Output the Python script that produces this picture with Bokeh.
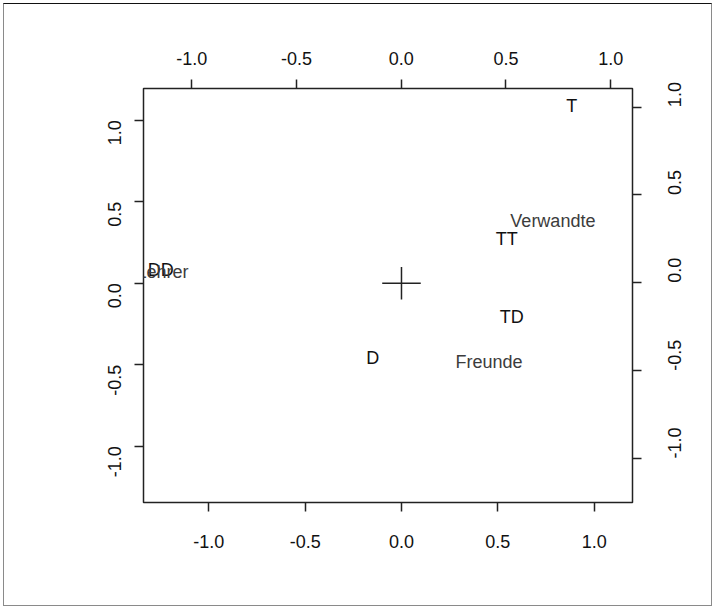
import math
from bokeh.plotting import figure
from bokeh.models import (Range1d, LinearAxis, FixedTicker, PrintfTickFormatter,
                          ColumnDataSource, InlineStyleSheet)
from bokeh.core.properties import value
from bokeh.embed import file_html
from bokeh.resources import INLINE

# First set (bottom / left axes)
row_labels = ["T", "TT", "TD", "D", "DD"]
row_x = [0.884, 0.546, 0.572, -0.149, -1.249]
row_y = [1.084, 0.274, -0.209, -0.456, 0.078]

# Second set (top / right axes)
col_labels = ["Verwandte", "Freunde", "Lehrer"]
col_x = [0.724, 0.419, -1.139]
col_y = [0.352, -0.452, 0.059]

tick_values = [-1.0, -0.5, 0.0, 0.5, 1.0]
cross_half = 0.1

FONT = "Liberation Sans"
FS = "18px"

p = figure(width=715, height=608, output_backend="svg", toolbar_location=None,
           x_range=Range1d(-1.339, 1.199), y_range=Range1d(-1.345, 1.194),
           min_border_left=143, min_border_right=83, min_border_top=88,
           min_border_bottom=106)
p.extra_x_ranges = {"top": Range1d(-1.230, 1.104)}
p.extra_y_ranges = {"right": Range1d(-1.250, 1.106)}

p.xgrid.visible = False
p.ygrid.visible = False
p.outline_line_color = "#222222"
p.outline_line_width = 1.5
p.background_fill_color = "white"
p.border_fill_color = "white"

# thin frame around the whole picture
p.stylesheets = [InlineStyleSheet(css="""
:host { position: relative; }
:host::after {
  content: "";
  position: absolute;
  left: 3px; top: 3px; right: 3px; bottom: 2px;
  border: 1px solid #8a8a8a;
  border-top-color: #111111;
  pointer-events: none;
  z-index: 100;
}
""")]

bottom_axis = p.below[0]
left_axis = p.left[0]
top_axis = LinearAxis(x_range_name="top")
right_axis = LinearAxis(y_range_name="right")
p.add_layout(top_axis, "above")
p.add_layout(right_axis, "right")


def style_axis(ax, standoff, vertical=False):
    ax.ticker = FixedTicker(ticks=tick_values)
    ax.formatter = PrintfTickFormatter(format="%.1f")
    ax.axis_line_color = None
    ax.major_tick_line_color = "#222222"
    ax.major_tick_line_width = 1.5
    ax.major_tick_out = 9
    ax.major_tick_in = 0
    ax.minor_tick_line_color = None
    ax.major_label_text_font = FONT
    ax.major_label_text_font_size = FS
    ax.major_label_text_color = "#111111"
    ax.major_label_standoff = standoff
    if vertical:
        ax.major_label_orientation = math.pi / 2


style_axis(bottom_axis, 23)
style_axis(top_axis, 15)
style_axis(left_axis, 20, vertical=True)
style_axis(right_axis, 33, vertical=True)

# origin cross
p.segment(x0=[-cross_half, 0], y0=[0, -cross_half], x1=[cross_half, 0], y1=[0, cross_half],
          line_color="#222222", line_width=1.5)

rows = ColumnDataSource(dict(x=row_x, y=row_y, t=row_labels))
cols = ColumnDataSource(dict(x=col_x, y=col_y, t=col_labels))

p.text(x="x", y="y", text="t", source=rows, text_font=value(FONT), text_font_size=FS,
       text_align="center", text_baseline="middle", text_color="#111111")
p.text(x="x", y="y", text="t", source=cols, text_font=value(FONT), text_font_size=FS,
       text_align="center", text_baseline="middle", text_color="#3c3c3c",
       x_range_name="top", y_range_name="right")

open("out.html", "w").write(file_html(p, INLINE))
